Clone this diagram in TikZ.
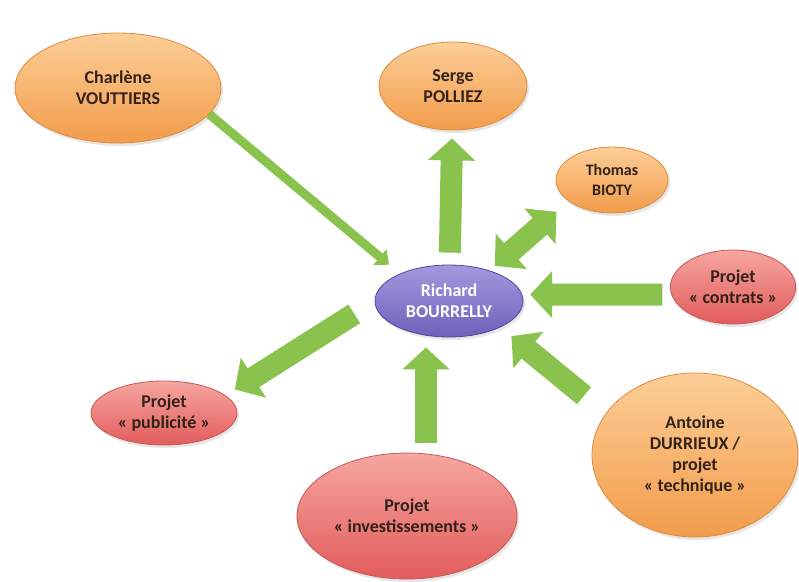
\documentclass[tikz,border=0pt]{standalone}
\usepackage{fontspec}
\setmainfont{Carlito}
\usetikzlibrary{arrows.meta, shapes.geometric, shadows}
\definecolor{orgtop}{RGB}{252, 206, 152}
\definecolor{orgbot}{RGB}{242, 156, 74}
\definecolor{orgline}{RGB}{222, 138, 62}
\definecolor{redtop}{RGB}{246, 166, 160}
\definecolor{redbot}{RGB}{226, 92, 92}
\definecolor{redline}{RGB}{200, 86, 86}
\definecolor{purtop}{RGB}{164, 152, 222}
\definecolor{purbot}{RGB}{112, 96, 188}
\definecolor{purline}{RGB}{84, 70, 150}
\definecolor{arrcol}{RGB}{138, 194, 78}
\definecolor{txtcol}{RGB}{50, 34, 26}

\begin{document}
\begin{tikzpicture}[x=1pt, y=-1pt,
    pers/.style={ellipse, inner sep=0pt, align=center, font=\bfseries\fontsize{18}{21}\selectfont, text=txtcol, line width=0.8pt, drop shadow={opacity=0.2, shadow xshift=2pt, shadow yshift=-3pt}},
    who/.style={pers, top color=orgtop, bottom color=orgbot, draw=orgline},
    proj/.style={pers, top color=redtop, bottom color=redbot, draw=redline},
    boss/.style={pers, top color=purtop, bottom color=purbot, draw=purline, text=white},
    bigarrow/.style={-{Triangle[width=46pt, length=22pt]}, line width=22pt, arrcol},
    dblarrow/.style={{Triangle[width=46pt, length=22pt]}-{Triangle[width=46pt, length=22pt]}, line width=22pt, arrcol},
    thinarrow/.style={-{Triangle[width=20pt, length=12pt]}, line width=9pt, arrcol}]

    \useasboundingbox (0, 0) rectangle (799, 581);

    \node[boss, minimum width=148pt, minimum height=72pt] (rich) at (449, 301) {Richard\\BOURRELLY};

    \node[who, minimum width=206pt, minimum height=110pt] (char) at (118, 88) {Charlène\\VOUTTIERS};
    \node[who, minimum width=148pt, minimum height=88pt] (serge) at (453, 86) {Serge\\POLLIEZ};
    \node[who, minimum width=112pt, minimum height=66pt, font=\bfseries\fontsize{16}{20}\selectfont] (thomas) at (612, 180) {Thomas\\BIOTY};
    \node[who, minimum width=206pt, minimum height=164pt] (ant) at (695, 455) {Antoine\\DURRIEUX /\\projet\\«~technique~»};

    \node[proj, minimum width=124pt, minimum height=74pt] (contrats) at (733, 287) {Projet\\«~contrats~»};
    \node[proj, minimum width=220pt, minimum height=126pt] (inv) at (407, 516) {Projet\\«~investissements~»};
    \node[proj, minimum width=146pt, minimum height=64pt] (publ) at (164, 413) {Projet\\«~publicité~»};

    \draw[thinarrow, shorten >=14pt] (char.344) -- (rich.151);
    \draw[bigarrow, shorten <=12pt, shorten >=8pt] (rich) -- (serge);
    \draw[dblarrow, shorten <=7pt, shorten >=16pt] (rich.37) -- (thomas.206);
    \draw[bigarrow, shorten <=9pt, shorten >=8pt] (contrats.187) -- (rich.5);
    \draw[bigarrow, shorten <=28pt, shorten >=14pt] (ant.155) -- (rich.333);
    \draw[bigarrow, shorten <=10pt, shorten >=10pt] ([xshift=19pt]inv.north) -- ([xshift=-23pt]rich.south);
    \draw[bigarrow, shorten <=24pt, shorten >=11pt] (rich.west) -- (publ.16);
  \end{tikzpicture}
\end{document}
